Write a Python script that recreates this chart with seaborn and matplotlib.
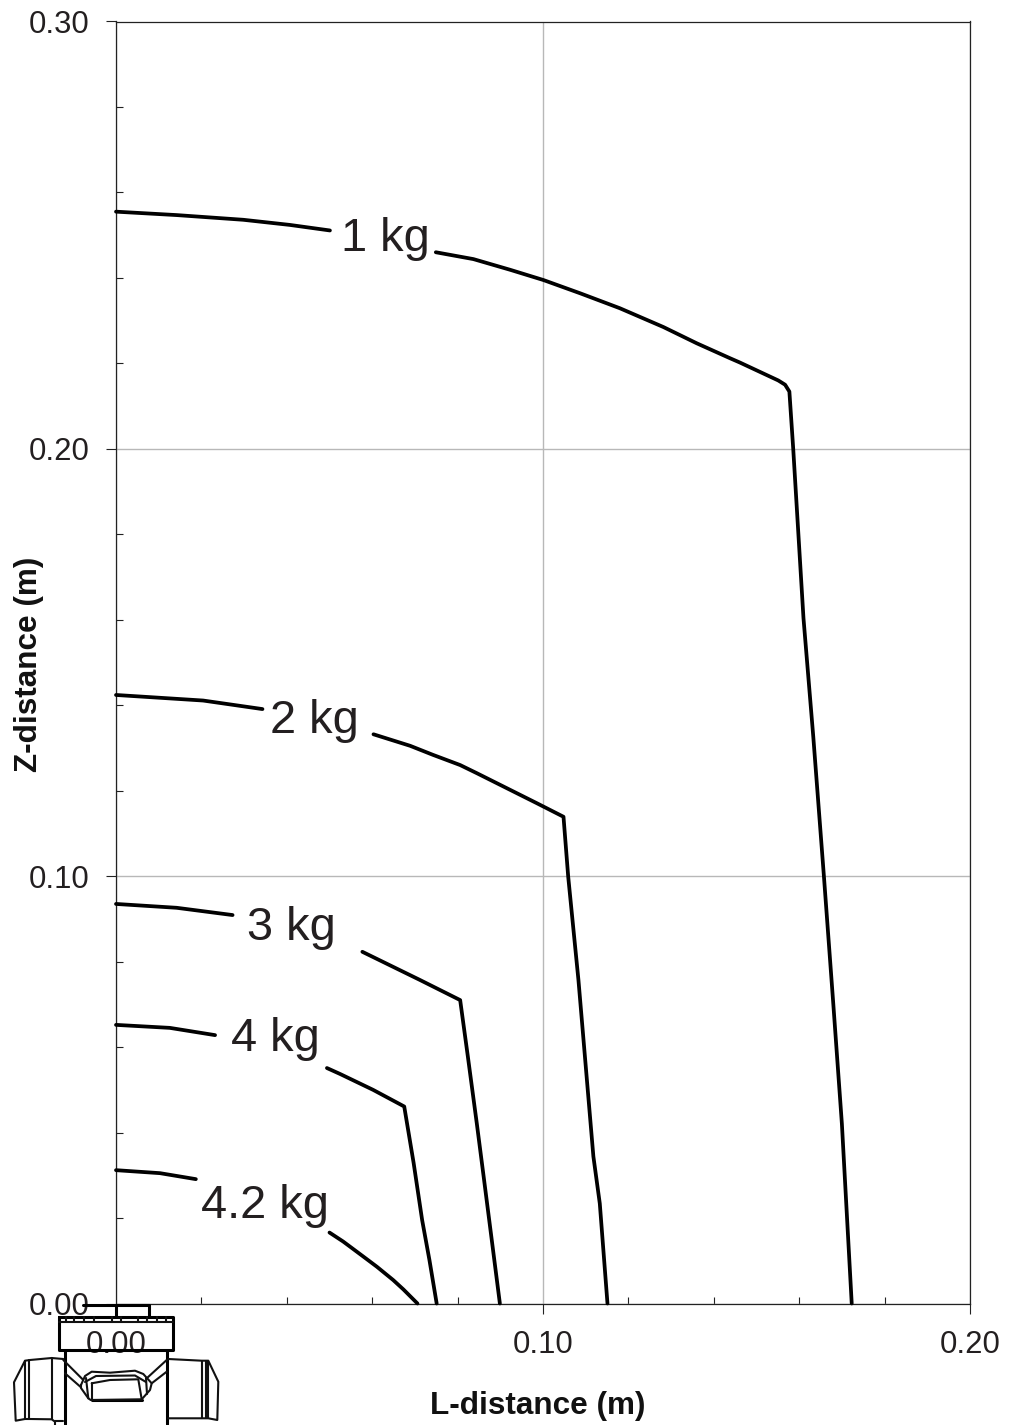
import matplotlib
matplotlib.use('Agg')
import matplotlib.pyplot as plt
import pandas as pd
import seaborn as sns
from matplotlib.ticker import MultipleLocator, FormatStrFormatter

sns.set_style('white')
plt.rcParams['font.family'] = ['Liberation Sans', 'DejaVu Sans']

# each curve is split in two where the label sits
kg1_a_l = [0.0, 0.0142, 0.0298, 0.0407, 0.0501]
kg1_a_z = [0.2555, 0.2547, 0.2536, 0.2524, 0.2511]
kg1_b_l = [0.0749, 0.0837, 0.0923, 0.1001, 0.1087, 0.1180, 0.1282, 0.1360, 0.1438, 0.1461, 0.1551, 0.1567, 0.1577,
           0.1586, 0.1610, 0.1633, 0.1658, 0.1680, 0.1700, 0.1723]
kg1_b_z = [0.2460, 0.2444, 0.2419, 0.2395, 0.2364, 0.2329, 0.2285, 0.2247, 0.2212, 0.2202, 0.2160, 0.2150, 0.2134,
           0.2000, 0.1604, 0.1326, 0.0998, 0.0699, 0.0420, 0.0]

kg2_a_l = [0.0, 0.0204, 0.0343]
kg2_a_z = [0.1424, 0.1411, 0.1391]
kg2_b_l = [0.0603, 0.0689, 0.0742, 0.0806, 0.0845, 0.0923, 0.0985, 0.1048, 0.1059, 0.1083, 0.1118, 0.1133, 0.1151]
kg2_b_z = [0.1332, 0.1305, 0.1284, 0.1260, 0.1241, 0.1202, 0.1171, 0.1139, 0.0999, 0.0757, 0.0344, 0.0234, 0.0]

kg3_a_l = [0.0, 0.0142, 0.0273]
kg3_a_z = [0.0935, 0.0926, 0.0909]
kg3_b_l = [0.0577, 0.0712, 0.0806, 0.0824, 0.0845, 0.0861, 0.0882, 0.0899]
kg3_b_z = [0.0823, 0.0757, 0.0710, 0.0578, 0.0421, 0.0297, 0.0133, 0.0]

kg4_a_l = [0.0, 0.0126, 0.0232]
kg4_a_z = [0.0652, 0.0645, 0.0628]
kg4_b_l = [0.0494, 0.0525, 0.0602, 0.0675, 0.0697, 0.0717, 0.0734, 0.0751]
kg4_b_z = [0.0551, 0.0537, 0.0500, 0.0461, 0.0329, 0.0195, 0.0102, 0.0]

kg42_a_l = [0.0, 0.0103, 0.0187]
kg42_a_z = [0.0312, 0.0305, 0.0291]
kg42_b_l = [0.0500, 0.0532, 0.0579, 0.0611, 0.0649, 0.0673, 0.0706]
kg42_b_z = [0.0166, 0.0145, 0.0110, 0.0086, 0.0055, 0.0033, 0.0]

segments = [
    (kg1_a_l, kg1_a_z), (kg1_b_l, kg1_b_z),
    (kg2_a_l, kg2_a_z), (kg2_b_l, kg2_b_z),
    (kg3_a_l, kg3_a_z), (kg3_b_l, kg3_b_z),
    (kg4_a_l, kg4_a_z), (kg4_b_l, kg4_b_z),
    (kg42_a_l, kg42_a_z), (kg42_b_l, kg42_b_z),
]

label_names = ['1 kg', '2 kg', '3 kg', '4 kg', '4.2 kg']
label_l = [0.0632, 0.0464, 0.0410, 0.0374, 0.0349]
label_z = [0.2492, 0.1364, 0.0878, 0.0618, 0.0229]

W, H = 1014, 1425
fig = plt.figure(figsize=(W / 100, H / 100), dpi=100)
ax = fig.add_axes([116 / W, 1 - 1303.5 / H, 854 / W, 1282 / H])

for l, z in segments:
    df = pd.DataFrame({'l': l, 'z': z})
    sns.lineplot(data=df, x='l', y='z', sort=False, estimator=None, color='black',
                 linewidth=2.7, solid_capstyle='round', clip_on=False, zorder=3, ax=ax)

ax.set_xlim(0, 0.2)
ax.set_ylim(0, 0.3)
ax.xaxis.set_major_locator(MultipleLocator(0.1))
ax.yaxis.set_major_locator(MultipleLocator(0.1))
ax.xaxis.set_minor_locator(MultipleLocator(0.02))
ax.yaxis.set_minor_locator(MultipleLocator(0.02))
ax.xaxis.set_major_formatter(FormatStrFormatter('%.2f'))
ax.yaxis.set_major_formatter(FormatStrFormatter('%.2f'))
ax.grid(True, which='major', color='#b8b8b8', linewidth=1)
ax.set_axisbelow(True)
ax.tick_params(axis='both', which='major', direction='out', length=7, width=0.8, color='#222222',
               labelsize=22.4, labelcolor='#231f20', bottom=True, left=True)
ax.tick_params(axis='x', which='major', pad=12)
ax.tick_params(axis='y', which='major', pad=12)
ax.tick_params(axis='both', which='minor', direction='in', length=5, width=0.8, color='#222222',
               bottom=True, left=True)
for side in ax.spines.values():
    side.set_visible(True)
    side.set_color('#222222')
    side.set_linewidth(0.9)

ax.set_xlabel('')
ax.set_ylabel('')
fig.text(538 / W, 1 - 1406 / H, 'L-distance (m)', fontsize=22.7, fontweight='bold',
         ha='center', va='center', color='#111111')
fig.text(29 / W, 1 - 664 / H, 'Z-distance (m)', fontsize=22.7, fontweight='bold',
         rotation=90, ha='center', va='center', color='#111111')

for name, l, z in zip(label_names, label_l, label_z):
    ax.text(l, z, name, fontsize=33.8, color='#231f20', ha='center', va='center', zorder=4)

# robot front view under the origin, in picture pixels
icon = fig.add_axes([0, 0, 1, 1], facecolor='none')
icon.set_xlim(0, W)
icon.set_ylim(H, 0)
icon.axis('off')

thick = [
    ([83, 149, 149], [1305, 1305, 1316.7]),
    ([59.3, 173.3, 173.3, 59.3, 59.3], [1316.7, 1316.7, 1350, 1350, 1316.7]),
    ([64.5, 64.5], [1350, 1424]),
    ([167.3, 167.3], [1350, 1424]),
    ([116.3, 116.3], [1305, 1316]),
    ([91.7, 141.7], [1400, 1400]),
]
thin = [
    ([59.3, 173.3], [1321.7, 1321.7]),
    ([63.3, 51.7, 30, 25, 14, 15.7, 25, 30, 51.7, 55, 55], [1359, 1358, 1360, 1360.7, 1382.3, 1420.7, 1419, 1419, 1419.3, 1421.7, 1425]),
    ([25, 25], [1360.7, 1419]),
    ([29.3, 29.3], [1360, 1419]),
    ([52.3, 52.3], [1358, 1419.3]),
    ([55, 63], [1421, 1421]),
    ([63.3, 83.3], [1360, 1380]),
    ([65, 81], [1373.3, 1387.3]),
    ([166.7, 146.7], [1360, 1378.3]),
    ([166.7, 151.7], [1371.7, 1383.3]),
    ([168.3, 201.7, 208.3, 218.3, 217.3, 208.3, 168.3], [1359, 1360.7, 1360.7, 1381.7, 1420, 1418.3, 1418.3]),
    ([201.7, 201.7], [1360.7, 1418.3]),
    ([205.7, 205.7], [1360.7, 1418.3]),
    ([208.3, 208.3], [1360.7, 1418.3]),
    ([81, 85, 91.7, 110, 135, 143.3, 151.7, 150, 141.7, 90.7, 88.3, 81, 81],
     [1385, 1376, 1371.7, 1372.7, 1370.7, 1374, 1383.3, 1390, 1399.3, 1400, 1398.3, 1388, 1385]),
    ([91.7, 110, 138.3, 141.7], [1383.3, 1380, 1379.3, 1399.3]),
    ([91.7, 91.7], [1383.3, 1400]),
    ([85, 96, 135, 146], [1382, 1376, 1375.5, 1382]),
    ([86, 88.3], [1378, 1398.3]),
    ([146, 147], [1378, 1394]),
]
strip_x = [66, 74, 84, 94.3, 111.7, 120.7, 137.7, 147.3, 157.3, 165.7]
for sx in strip_x:
    thin.append(([sx, sx], [1316.7, 1321.7]))

for xs, ys in thick:
    icon.plot(xs, ys, color='black', linewidth=2.2)
for xs, ys in thin:
    icon.plot(xs, ys, color='#111111', linewidth=1.5)

fig.savefig('out.png', dpi=100, facecolor='white')
